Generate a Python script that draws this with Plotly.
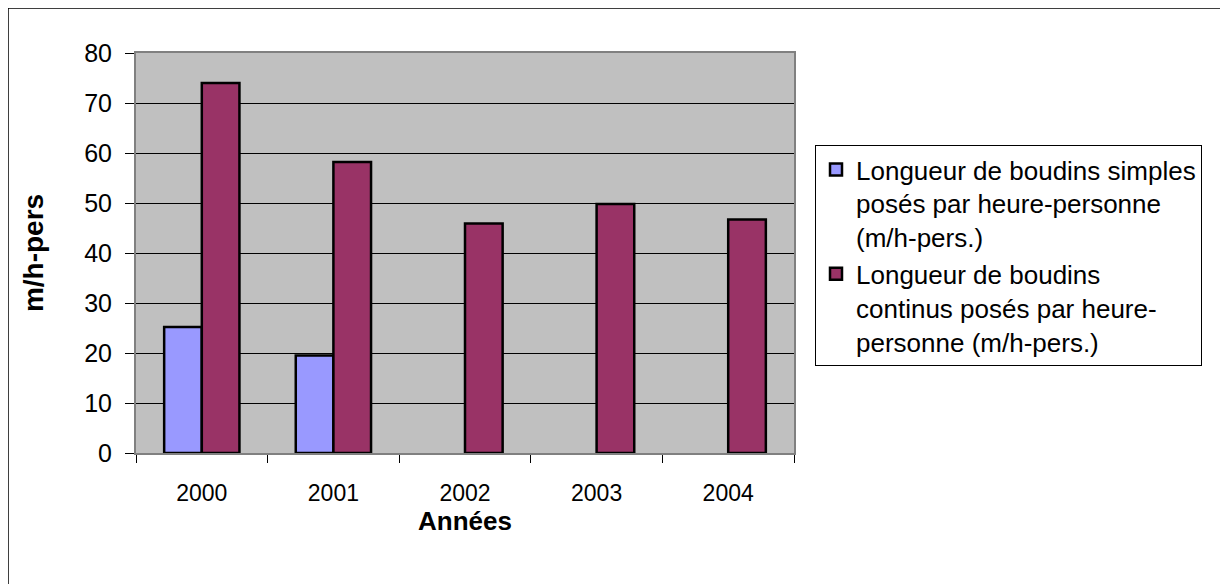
import plotly.graph_objects as go

years = [2000, 2001, 2002, 2003, 2004]
year_labels = ["2000", "2001", "2002", "2003", "2004"]
simples = [25.2, 19.5, None, None, None]
continus = [74.0, 58.2, 45.9, 49.8, 46.7]
name_simples = "Longueur de boudins simples<br>posés par heure-personne<br>(m/h-pers.)"
name_continus = "Longueur de boudins<br>continus posés par heure-<br>personne (m/h-pers.)"
y_ticks = [0, 10, 20, 30, 40, 50, 60, 70, 80]

OFF = 8  # page offset of the figure in the screenshot
W, H = 1228, 584
L, R, T, B = 136, 794, 53, 453  # plot area in screen pixels
pw, ph = R - L, B - T

def px(x):
    return (x - L) / pw

def py(y):
    return (B - y) / ph

fig = go.Figure()
fig.add_bar(x=years, y=simples, name=name_simples,
            marker=dict(color="#9999FF", line=dict(color="black", width=2.5)))
fig.add_bar(x=years, y=continus, name=name_continus,
            marker=dict(color="#993366", line=dict(color="black", width=2.5)))

fig.update_layout(
    width=W, height=H,
    margin=dict(l=L - OFF, r=W - (R - OFF), t=T - OFF, b=H - (B - OFF), pad=0),
    paper_bgcolor="white", plot_bgcolor="#C0C0C0",
    barmode="group", bargap=0.428, bargroupgap=0,
    font=dict(family="Liberation Sans, Arial, sans-serif", color="black"),
    showlegend=True,
    legend=dict(x=px(815), y=py(145), xanchor="left", yanchor="top",
                bgcolor="white", bordercolor="black", borderwidth=1,
                font=dict(size=26, family="Liberation Sans, Arial, sans-serif"),
                tracegroupgap=0, itemwidth=30, valign="top"),
    xaxis=dict(
        range=[years[0] - 0.5, years[-1] + 0.5],
        tickvals=years, ticktext=year_labels, ticks="", ticklabelstandoff=18,
        minor=dict(tick0=years[0] - 0.5, dtick=1, ticks="outside", ticklen=8,
                   tickcolor="black", tickwidth=1, showgrid=False),
        showline=True, linecolor="#808080", linewidth=2, mirror=True,
        tickfont=dict(size=23),
        title=dict(text="<b>Années</b>", standoff=5, font=dict(size=26)),
        showgrid=False, zeroline=False,
    ),
    yaxis=dict(
        range=[0, 80], tickvals=y_ticks, ticks="outside", ticklen=9,
        tickcolor="black", tickwidth=1, ticklabelstandoff=8,
        showline=True, linecolor="#808080", linewidth=2, mirror=True,
        gridcolor="black", gridwidth=1, showgrid=True, zeroline=False,
        tickfont=dict(size=25),
        title=dict(text="<b>m/h-pers</b>", standoff=32, font=dict(size=28)),
    ),
    shapes=[dict(type="rect", xref="paper", yref="paper",
                 x0=px(8), x1=px(1240), y0=py(8), y1=py(600),
                 line=dict(color="black", width=1.5), layer="above")],
)

fig.write_html("out.html")
